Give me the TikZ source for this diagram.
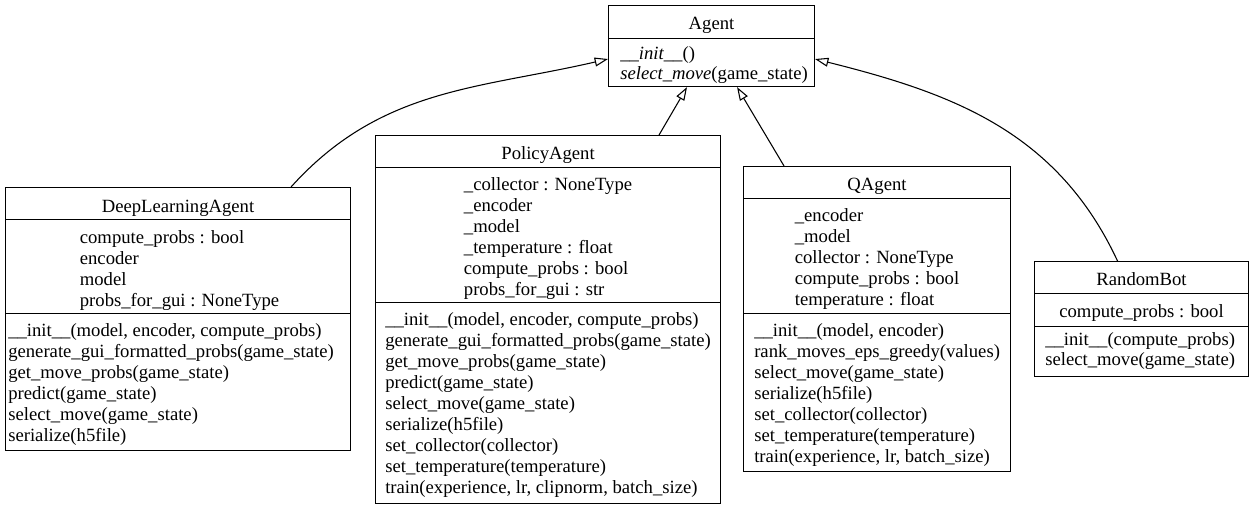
\documentclass[tikz,border=0pt]{standalone}
\usepackage{fontspec}
\setmainfont{Liberation Serif}
\usetikzlibrary{arrows.meta,positioning}

\tikzset{
  classbox/.style={draw, line width=0.8pt, inner sep=0pt, anchor=north west},
  classname/.style={inner sep=0pt, anchor=base},
  members/.style={inner sep=0pt, align=left, anchor=north,
    execute at begin node={\rule{0pt}{11.25pt}}},
  inherits/.style={line width=0.8pt, -{Triangle[open,length=10pt,width=6.7pt]}},
}

\begin{document}
\begin{tikzpicture}[x=0.75pt, y=-0.75pt, font=\fontsize{14}{15.75}\selectfont]
\path[fill=white] (0,0) rectangle (1253,509);

% base class
\node[classbox, minimum width=154.5pt, minimum height=60.75pt] (agent) at (608,5) {};
\node[classname] (agent-name) at ([shift={(0,24.5)}]agent.north) {Agent};
\draw ([shift={(0,33)}]agent.north west) -- ([shift={(0,33)}]agent.north east);
\node[members, anchor=north west, font=\fontsize{14}{15}\selectfont] (agent-ops) at ([shift={(12,41)}]agent.north west)
  {\textit{\_\_init\_\_}()\\\textit{select\_move}(game\_state)};

% DeepLearningAgent
\node[classbox, minimum width=258.75pt, minimum height=197.25pt] (dla) at (5,187) {};
\node[classname] (dla-name) at ([shift={(0,25.5)}]dla.north) {DeepLearningAgent};
\draw ([shift={(0,32)}]dla.north west) -- ([shift={(0,32)}]dla.north east);
\draw ([shift={(0,126)}]dla.north west) -- ([shift={(0,126)}]dla.north east);
\node[members] (dla-attrs) at ([shift={(1.5,43)}]dla.north)
  {compute\_probs : bool\\encoder\\model\\probs\_for\_gui : NoneType};
\node[members, anchor=north west] (dla-ops) at ([shift={(3,136)}]dla.north west)
  {\_\_init\_\_(model, encoder, compute\_probs)\\
   generate\_gui\_formatted\_probs(game\_state)\\
   get\_move\_probs(game\_state)\\
   predict(game\_state)\\
   select\_move(game\_state)\\
   serialize(h5file)};

% PolicyAgent
\node[classbox, minimum width=258.75pt, minimum height=276pt] (policy) at (375,135) {};
\node[classname] (policy-name) at ([shift={(0,24.5)}]policy.north) {PolicyAgent};
\draw ([shift={(0,32)}]policy.north west) -- ([shift={(0,32)}]policy.north east);
\draw ([shift={(0,167)}]policy.north west) -- ([shift={(0,167)}]policy.north east);
\node[members] (policy-attrs) at ([shift={(0,42)}]policy.north)
  {\_collector : NoneType\\\_encoder\\\_model\\\_temperature : float\\compute\_probs : bool\\probs\_for\_gui : str};
\node[members, anchor=north west] (policy-ops) at ([shift={(10,177.5)}]policy.north west)
  {\_\_init\_\_(model, encoder, compute\_probs)\\
   generate\_gui\_formatted\_probs(game\_state)\\
   get\_move\_probs(game\_state)\\
   predict(game\_state)\\
   select\_move(game\_state)\\
   serialize(h5file)\\
   set\_collector(collector)\\
   set\_temperature(temperature)\\
   train(experience, lr, clipnorm, batch\_size)};

% QAgent
\node[classbox, minimum width=200.25pt, minimum height=228.75pt] (qagent) at (743,166) {};
\node[classname] (qagent-name) at ([shift={(0,24.5)}]qagent.north) {QAgent};
\draw ([shift={(0,32)}]qagent.north west) -- ([shift={(0,32)}]qagent.north east);
\draw ([shift={(0,147)}]qagent.north west) -- ([shift={(0,147)}]qagent.north east);
\node[members] (qagent-attrs) at ([shift={(0,42)}]qagent.north)
  {\_encoder\\\_model\\collector : NoneType\\compute\_probs : bool\\temperature : float};
\node[members, anchor=north west] (qagent-ops) at ([shift={(11,157.5)}]qagent.north west)
  {\_\_init\_\_(model, encoder)\\
   rank\_moves\_eps\_greedy(values)\\
   select\_move(game\_state)\\
   serialize(h5file)\\
   set\_collector(collector)\\
   set\_temperature(temperature)\\
   train(experience, lr, batch\_size)};

% RandomBot
\node[classbox, minimum width=160.5pt, minimum height=86.25pt] (randombot) at (1034,261) {};
\node[classname] (randombot-name) at ([shift={(0,24.5)}]randombot.north) {RandomBot};
\draw ([shift={(0,32)}]randombot.north west) -- ([shift={(0,32)}]randombot.north east);
\draw ([shift={(0,65)}]randombot.north west) -- ([shift={(0,65)}]randombot.north east);
\node[members] (randombot-attrs) at ([shift={(0,41)}]randombot.north) {compute\_probs : bool};
\node[members, anchor=north west, font=\fontsize{14}{15}\selectfont] (randombot-ops) at ([shift={(11,71)}]randombot.north west)
  {\_\_init\_\_(compute\_probs)\\select\_move(game\_state)};

% inheritance
\draw[inherits] ([shift={(113,0)}]dla.north) to[out=48, in=193] ([shift={(0,13)}]agent.west);
\draw[inherits] ([shift={(111,0)}]policy.north) -- ([shift={(-24.5,0)}]agent.south);
\draw[inherits] ([shift={(-93,0)}]qagent.north) -- ([shift={(25.5,0)}]agent.south);
\draw[inherits] ([shift={(-24,0)}]randombot.north) to[out=115, in=-14] ([shift={(0,13)}]agent.east);
\end{tikzpicture}
\end{document}
